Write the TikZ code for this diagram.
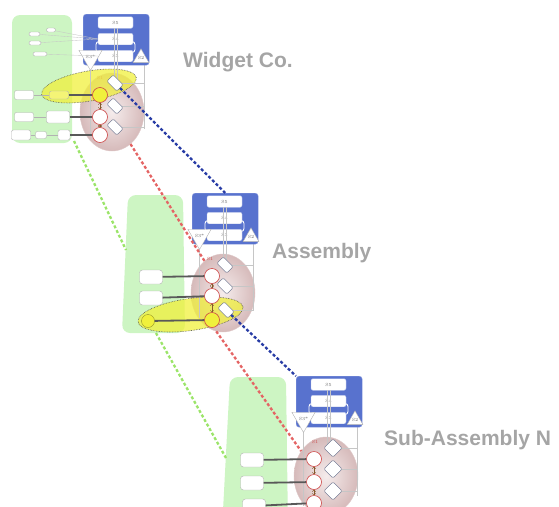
\documentclass[tikz,border=0pt]{standalone}
\usepackage{fontspec}
\setsansfont{Liberation Sans}
\usetikzlibrary{shapes.geometric}

\definecolor{metablue}{RGB}{88,114,206}
\definecolor{envgreen}{RGB}{205,245,195}
\definecolor{pinkin}{RGB}{245,236,236}
\definecolor{pinkout}{RGB}{214,186,186}
\definecolor{focus}{RGB}{240,240,60}
\definecolor{oprred}{RGB}{205,70,70}
\definecolor{slate}{RGB}{90,100,130}
\definecolor{linkblue}{RGB}{40,60,165}
\definecolor{linkred}{RGB}{228,100,100}
\definecolor{linkgreen}{RGB}{155,228,105}
\definecolor{titlegray}{RGB}{165,165,165}

\newcommand{\minifont}{\fontsize{4.5}{5}\selectfont}

\tikzset{
  meta/.style={fill=metablue, draw=metablue!70!white, rounded corners=3pt, minimum width=66pt, minimum height=51pt, anchor=north west, inner sep=0pt},
  sysbox/.style={fill=white, draw=metablue!40, rounded corners=2pt, minimum width=35pt, minimum height=11.5pt, inner sep=0pt, font=\minifont, text=gray!80!black},
  tridown/.style={regular polygon, regular polygon sides=3, shape border rotate=180, fill=white, draw=gray!60, minimum size=13pt, inner sep=0pt, font=\minifont, text=gray!80!black},
  triup/.style={regular polygon, regular polygon sides=3, fill=white, draw=gray!60, minimum size=13pt, inner sep=0pt, font=\minifont, text=gray!80!black},
  band/.style={draw=white, line width=0.9pt, rounded corners=3pt},
  unit/.style={ellipse, minimum width=64pt, minimum height=78pt, inner color=pinkin, outer color=pinkout, draw=pinkout!80},
  s1label/.style={font=\minifont, text=oprred},
  focusring/.style={ellipse, fill=focus, fill opacity=0.75, draw=black!70, densely dotted, line width=0.6pt},
  opunit/.style={circle, fill=white, draw=oprred, line width=0.6pt, minimum size=15pt, inner sep=0pt},
  regul/.style={rectangle, rotate=45, fill=white, draw=slate, rounded corners=1.5pt, minimum width=9pt, minimum height=14pt, inner sep=0pt},
  regulsq/.style={rectangle, rotate=45, fill=white, draw=slate, rounded corners=1.5pt, minimum size=13pt, inner sep=0pt},
  guide/.style={draw=gray!45, line width=0.35pt},
  opflow/.style={draw=brown!70!black, line width=0.5pt, <->},
  envbox/.style={fill=white, draw=gray!60, rounded corners=2pt, inner sep=0pt},
  envtag/.style={fill=white, draw=gray!60, rounded corners=3pt, minimum width=23pt, minimum height=14pt, inner sep=0pt},
  feed/.style={draw=gray!70!black, line width=1.8pt},
  feedthin/.style={draw=gray!60, line width=0.8pt},
  linkb/.style={draw=linkblue, line width=2.3pt, dash pattern=on 3pt off 2.2pt},
  linkr/.style={draw=linkred, line width=2.3pt, dash pattern=on 3pt off 2.2pt},
  linkg/.style={draw=linkgreen, line width=2.3pt, dash pattern=on 3pt off 2.2pt},
  title/.style={font=\sffamily\bfseries\fontsize{21}{25}\selectfont, text=titlegray, anchor=base west, inner sep=0pt}
}

\begin{document}
\begin{tikzpicture}[x=1pt,y=-1pt]
\useasboundingbox (0,0) rectangle (559,506);

% Widget Co.
\fill[envgreen, rounded corners=8pt] (12,15) rectangle (72,143);
\coordinate (gW) at (74,141);

\begin{scope}[shift={(83,14)}]
\node[unit] (s1W) at (29,98) {};
\node[s1label] at (17,64) {S1};
\node[focusring, minimum width=96pt, minimum height=30pt, rotate=10] (focW) at (6,72) {};
\draw[guide] (7.5,50) -- (7.5,122);
\draw[guide] (61,50) -- (61,115);
\draw[guide] (32,69) -- (61,69);
\draw[guide] (32,92) -- (61,92);
\draw[guide] (32,113) -- (61,113);
\node[meta] (metaW) at (0,0) {};
\draw[band] (13,27.5) rectangle (52,38.5);
\node[sysbox] (s5W) at (32.5,8.5) {S5};
\node[sysbox] (s4W) at (32.5,25) {S4};
\node[sysbox] (s3W) at (32.5,42) {S3};
\node[tridown] (s3sW) at (7.5,43) {S3*};
\node[triup] (s2W) at (58,44) {S2};
\draw[guide] (31.5,14) -- (31.5,70);
\draw[guide] (34.5,14) -- (34.5,70);
\node[opunit, fill=focus] (o1W) at (17,81) {};
\node[opunit] (o2W) at (17,103) {};
\node[opunit] (o3W) at (17,121) {};
\draw[opflow] (o1W) -- (o2W);
\draw[opflow] (o2W) -- (o3W);
\node[regul] (d1W) at (32,69) {};
\node[regul] (d2W) at (32,92) {};
\node[regul] (d3W) at (32,113) {};
\end{scope}

\node[envbox, minimum width=9pt, minimum height=4pt] (eW1) at (51,30) {};
\node[envbox, minimum width=11pt, minimum height=4pt] (eW2) at (34.5,34) {};
\node[envbox, minimum width=12pt, minimum height=4pt] (eW3) at (35,43) {};
\node[envbox, minimum width=14pt, minimum height=4pt] (eW4) at (40,54) {};
\draw[guide] (eW1) -- (s4W.west);
\draw[guide] (eW2) -- (s4W.west);
\draw[guide] (eW3) -- (s4W.west);
\draw[guide] (eW4) -- (s3W.west);

\node[envbox, minimum width=19pt, minimum height=9pt] (lW1) at (24,95) {};
\node[envbox, minimum width=19pt, minimum height=9pt] (lW2) at (24,117) {};
\node[envbox, minimum width=19pt, minimum height=10pt] (lW3) at (21,135) {};
\node[envbox, fill=focus!70, minimum width=19pt, minimum height=8pt] (bW1) at (59,95) {};
\node[envbox, minimum width=23pt, minimum height=12pt] (bW2) at (58,117) {};
\node[envbox, minimum width=11pt, minimum height=7pt] (bW3) at (41,135) {};
\node[envbox, minimum width=12pt, minimum height=10pt] (cW3) at (64,135) {};
\draw[feedthin] (lW1) -- (bW1);
\draw[feedthin] (lW2) -- (bW2);
\draw[feedthin] (lW3) -- (bW3);
\draw[feedthin] (bW3) -- (cW3);
\draw[feed] (bW1) -- (o1W);
\draw[feed] (bW2) -- (o2W);
\draw[feed] (cW3) -- (o3W);

\node[title] (tW) at (183,67) {Widget Co.};

% Assembly
\fill[envgreen, rounded corners=8pt] (128,195) -- (183,195) -- (185,333) -- (122,333) -- cycle;
\coordinate (gA1) at (126,250);
\coordinate (gA2) at (156,333);

\begin{scope}[shift={(192,193)}]
\node[unit] (s1A) at (31,100) {};
\node[s1label] at (18,66) {S1};
\node[focusring, minimum width=106pt, minimum height=32pt, rotate=8] (focA) at (-1.5,121.5) {};
\draw[guide] (7.5,50) -- (7.5,125);
\draw[guide] (61,50) -- (61,118);
\draw[guide] (33,72) -- (61,72);
\draw[guide] (33,93) -- (61,93);
\draw[guide] (34,117) -- (61,117);
\node[meta] (metaA) at (0,0) {};
\draw[band] (13,27.5) rectangle (52,38.5);
\node[sysbox] (s5A) at (32.5,8.5) {S5};
\node[sysbox] (s4A) at (32.5,25) {S4};
\node[sysbox] (s3A) at (32.5,42) {S3};
\node[tridown] (s3sA) at (7.5,43) {S3*};
\node[triup] (s2A) at (59,44) {S2};
\draw[guide] (31.5,14) -- (31.5,72);
\draw[guide] (34.5,14) -- (34.5,72);
\node[opunit] (o1A) at (20,83) {};
\node[opunit] (o2A) at (20,103) {};
\node[opunit, fill=focus] (o3A) at (20,127) {};
\draw[opflow] (o1A) -- (o2A);
\draw[opflow] (o2A) -- (o3A);
\node[regul] (d1A) at (33,72) {};
\node[regul] (d2A) at (33,93) {};
\node[regul] (d3A) at (34,117) {};
\end{scope}

\node[envtag] (eA1) at (151,277) {};
\node[envtag] (eA2) at (151,298) {};
\node[circle, fill=focus, draw=focus!60!black, minimum size=13pt, inner sep=0pt] (eA3) at (148,321) {};
\draw[feed] (eA1) -- (o1A);
\draw[feed] (eA2) -- (o2A);
\draw[feed] (eA3) -- (o3A);

\node[title] (tA) at (272,258) {Assembly};

% Sub-Assembly N
\fill[envgreen, rounded corners=8pt] (230,377) -- (286,377) -- (288,530) -- (222,530) -- cycle;
\coordinate (gN) at (226,458);

\begin{scope}[shift={(296,376)}]
\node[unit] (s1N) at (30,100) {};
\node[s1label] at (19,66) {S1};
\draw[guide] (7.5,50) -- (7.5,130);
\draw[guide] (61,50) -- (61,120);
\draw[guide] (37,72) -- (61,72);
\draw[guide] (37,93) -- (61,93);
\draw[guide] (37,115) -- (61,115);
\node[meta] (metaN) at (0,0) {};
\draw[band] (13,27.5) rectangle (52,38.5);
\node[sysbox] (s5N) at (32.5,8.5) {S5};
\node[sysbox] (s4N) at (32.5,25) {S4};
\node[sysbox] (s3N) at (32.5,42) {S3};
\node[tridown] (s3sN) at (7.5,43) {S3*};
\node[triup] (s2N) at (59,44) {S2};
\draw[guide] (31.5,14) -- (31.5,72);
\draw[guide] (34.5,14) -- (34.5,72);
\node[opunit] (o1N) at (18,83) {};
\node[opunit] (o2N) at (18,106) {};
\node[opunit] (o3N) at (18,127) {};
\draw[opflow] (o1N) -- (o2N);
\draw[opflow] (o2N) -- (o3N);
\node[regulsq] (d1N) at (37,72) {};
\node[regulsq] (d2N) at (37,93) {};
\node[regulsq] (d3N) at (37,115) {};
\end{scope}

\node[envtag] (eN1) at (252,460) {};
\node[envtag] (eN2) at (252,483) {};
\node[envtag] (eN3) at (254,506) {};
\draw[feed] (eN1) -- (o1N);
\draw[feed] (eN2) -- (o2N);
\draw[feed] (eN3) -- (o3N);

\node[title] (tN) at (384,445) {Sub-Assembly N};

\draw[linkb] (d1W) -- (metaA.north);
\draw[linkb] (d3A) -- (metaN.north west);
\draw[linkr] (s1W.-60) -- (s1A.120);
\draw[linkr] (s1A.-100) -- (s1N.135);
\draw[linkg] (gW) -- (gA1);
\draw[linkg] (gA2) -- (gN);

\end{tikzpicture}
\end{document}
